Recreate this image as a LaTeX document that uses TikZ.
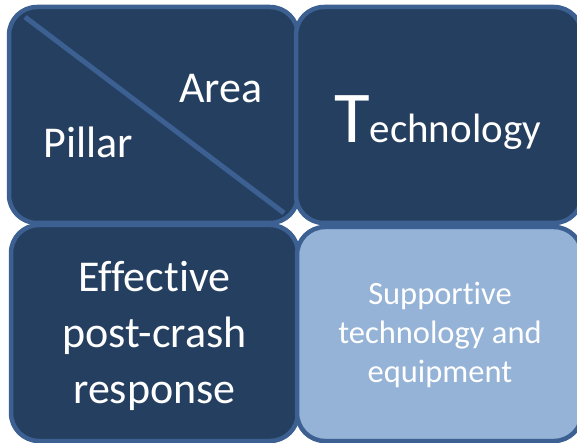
\documentclass[tikz,border=0pt]{standalone}
\usepackage{fontspec}
\setmainfont[Ligatures=NoCommon]{Carlito}
\definecolor{boxdark}{RGB}{37,63,96}
\definecolor{boxlight}{RGB}{149,179,215}
\definecolor{boxedge}{RGB}{60,96,145}
\tikzset{
  cell/.style={draw=boxedge, line width=4.5pt, rounded corners=28pt},
  darkcell/.style={cell, fill=boxdark},
  lightcell/.style={cell, fill=boxlight},
  label/.style={text=white, inner sep=0pt},
}
\begin{document}
\begin{tikzpicture}[x=1pt,y=-1pt]
\useasboundingbox (0,0) rectangle (577,443);
\begin{scope}
\clip (0,0) rectangle (577,443);
% top-left cell
\draw[darkcell] (9,7) rectangle (298,223);
\coordinate (d1) at (25,17);
\coordinate (d2) at (284,213);
\draw[boxedge, line width=5pt] (d1) -- (d2);
% top-right cell
\draw[darkcell] (296,7) rectangle (582,223);
% bottom-left cell
\draw[darkcell] (11,225) rectangle (298,441);
% bottom-right cell
\draw[lightcell] (297,227) rectangle (582,441);
\end{scope}
\node[label, anchor=base, font=\fontsize{44}{52}\selectfont] (area) at (221,103) {Area};
\node[label, anchor=base, font=\fontsize{44}{52}\selectfont] (pillar) at (88.5,158) {Pillar};
\node[label, anchor=base] (tech) at (437.5,143) {{\fontsize{73}{73}\selectfont T}{\fontsize{41}{50}\selectfont echnology}};
\node[label, align=center, font=\fontsize{44}{56}\selectfont] (resp) at (154.5,336) {Effective\\post-crash\\response};
\node[label, align=center, font=\fontsize{32.5}{39}\selectfont] (supp) at (440,335) {Supportive\\technology and\\equipment};
\end{tikzpicture}
\end{document}
